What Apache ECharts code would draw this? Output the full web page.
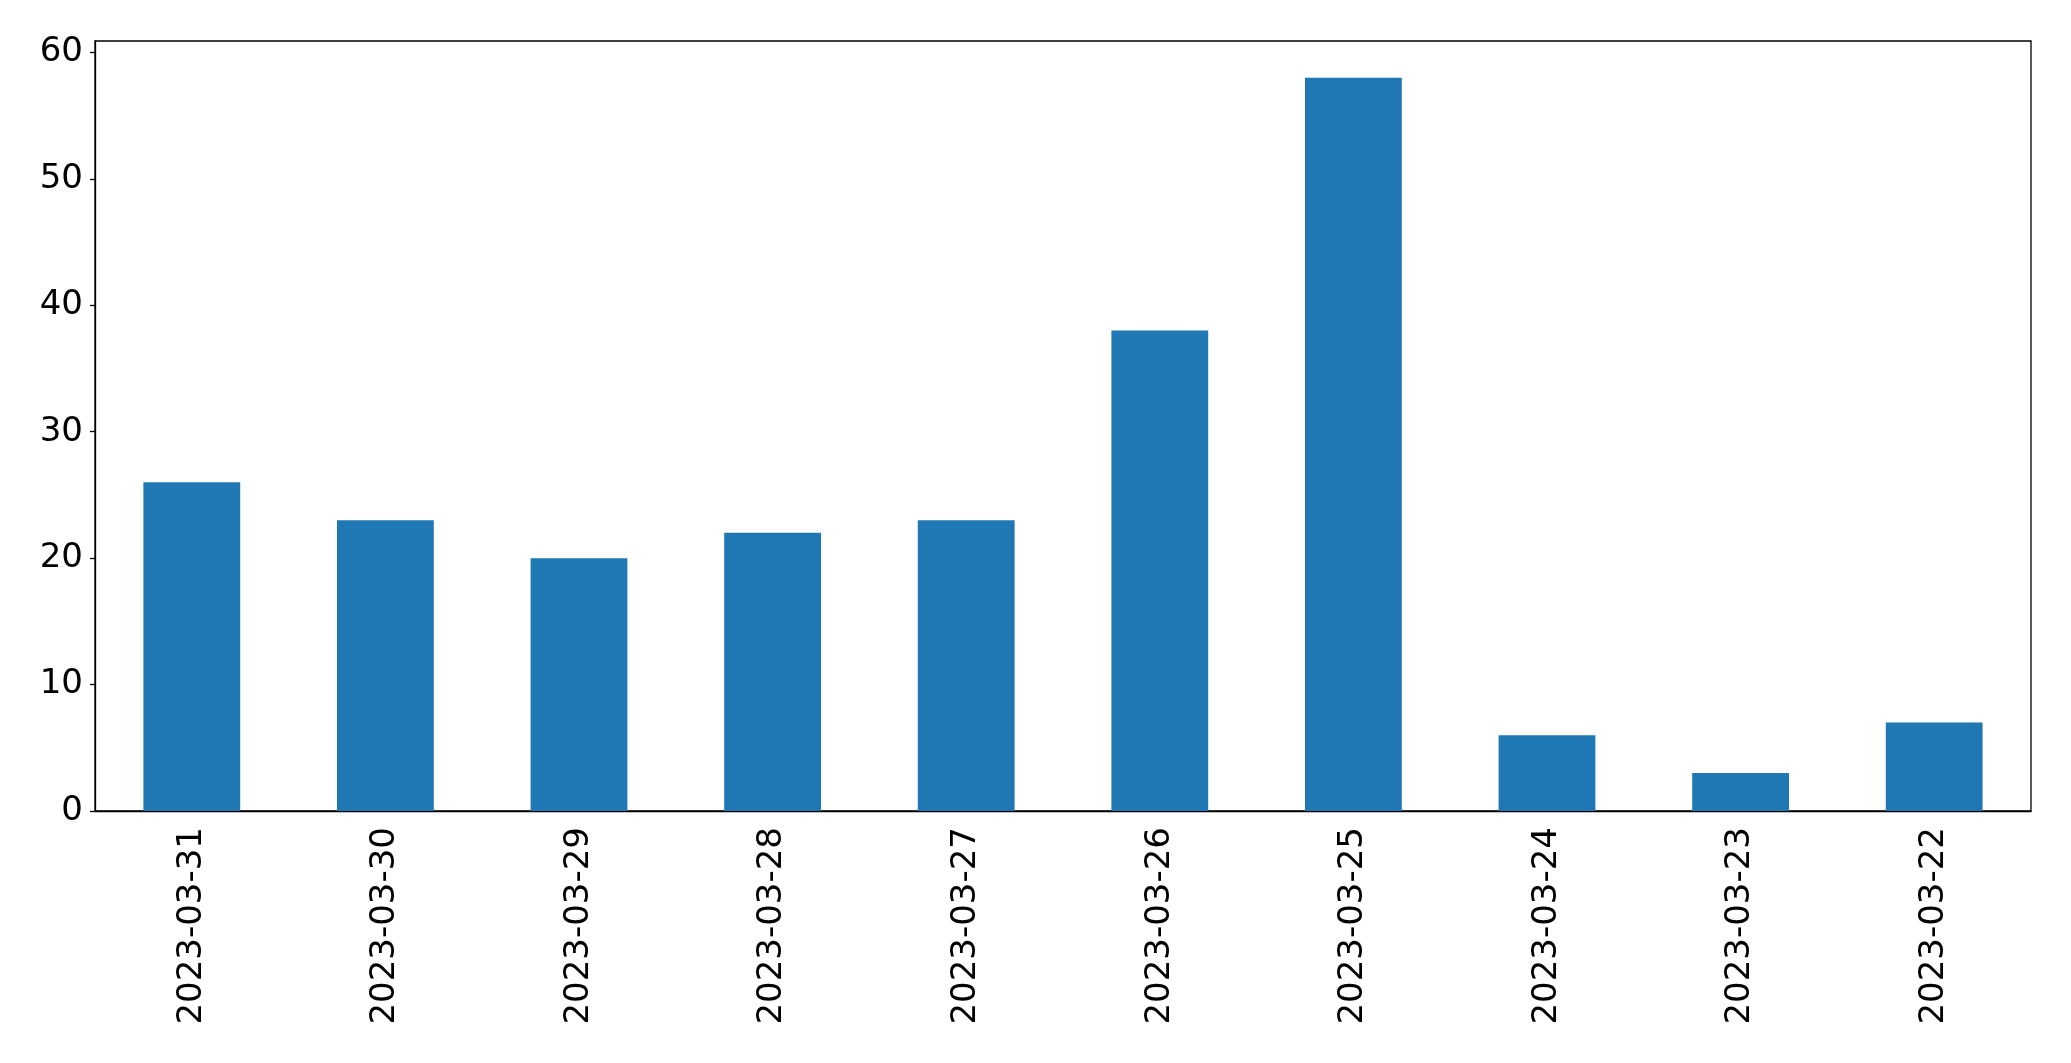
<!DOCTYPE html>
<html lang="en">
<head>
    <meta charset="UTF-8">
    <title>bar chart</title>
    <style>
        html, body { margin: 0; padding: 0; background: #fff; }
    </style>
</head>
<body>
<div id="chart1" style="width:2071px; height:1063px;"></div>
<script type="text/javascript" src="https://cdn.jsdelivr.net/npm/echarts@6/dist/echarts.min.js"></script>
<script type="text/javascript">
// data
var dates = ['2023-03-31', '2023-03-30', '2023-03-29', '2023-03-28', '2023-03-27',
             '2023-03-26', '2023-03-25', '2023-03-24', '2023-03-23', '2023-03-22'];
var counts = [26, 23, 20, 22, 23, 38, 58, 6, 3, 7];
var yTicks = [0, 10, 20, 30, 40, 50, 60];

var font = 'DejaVu Sans';

var option = {
    animation: false,
    backgroundColor: '#ffffff',
    grid: {
        left: 95,
        right: 40,
        top: 41,
        bottom: 252,
        show: true,
        borderColor: '#000',
        borderWidth: 1.3,
        backgroundColor: 'transparent'
    },
    xAxis: {
        type: 'category',
        data: dates,
        boundaryGap: true,
        axisLine: { lineStyle: { color: '#000', width: 1.3 } },
        axisTick: { alignWithLabel: true, length: 6, lineStyle: { color: '#000', width: 1.3 } },
        axisLabel: {
            rotate: 90,
            margin: 16,
            color: '#000',
            fontSize: 34,
            fontFamily: font,
            interval: 0
        }
    },
    yAxis: {
        type: 'value',
        min: 0,
        max: 60.9,
        interval: 10,
        splitLine: { show: false },
        axisLine: { show: true, lineStyle: { color: '#000', width: 1.3 } },
        axisTick: { show: true, length: 5, customValues: yTicks, lineStyle: { color: '#000', width: 1.3 } },
        axisLabel: {
            margin: 12,
            color: '#000',
            fontSize: 34,
            fontFamily: font,
            customValues: yTicks
        }
    },
    series: [{
        name: 'count',
        type: 'bar',
        data: counts,
        barCategoryGap: '50%',
        itemStyle: { color: '#1f77b4' }
    }]
};

var myChart = echarts.init(document.getElementById('chart1'));
myChart.setOption(option);
</script>
</body>
</html>
